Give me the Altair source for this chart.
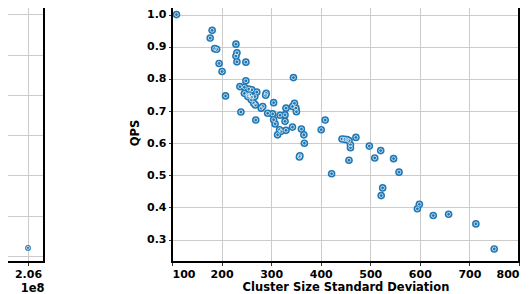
import altair as alt
import pandas as pd

# Right panel: cluster size std vs QPS
std_dev = [109, 181, 177, 186, 190, 195, 201, 208, 229, 231, 229, 231, 249, 249, 237, 246,
           255, 261, 271, 290, 289, 246, 253, 257, 253, 261, 267, 260, 265, 268, 283, 280,
           305, 239, 269, 293, 303, 305, 308, 318, 330, 328, 347, 343, 350, 351, 328, 317,
           343, 330, 320, 313, 361, 366, 367, 358, 357, 345, 409, 401, 443, 448, 453, 457,
           471, 460, 460, 498, 457, 509, 521, 547, 558, 422, 525, 522, 599, 595, 627, 658,
           713, 750]
qps = [1.000, 0.951, 0.927, 0.894, 0.892, 0.848, 0.823, 0.747, 0.908, 0.881, 0.871, 0.853,
       0.852, 0.794, 0.776, 0.774, 0.768, 0.766, 0.759, 0.755, 0.749, 0.755, 0.750, 0.750,
       0.745, 0.743, 0.745, 0.735, 0.724, 0.719, 0.714, 0.709, 0.726, 0.697, 0.672, 0.693,
       0.691, 0.673, 0.660, 0.687, 0.709, 0.688, 0.724, 0.714, 0.709, 0.698, 0.668, 0.642,
       0.650, 0.640, 0.637, 0.626, 0.644, 0.626, 0.600, 0.561, 0.557, 0.804, 0.672, 0.642,
       0.613, 0.612, 0.611, 0.608, 0.618, 0.595, 0.586, 0.591, 0.547, 0.554, 0.577, 0.552,
       0.510, 0.505, 0.461, 0.437, 0.410, 0.396, 0.375, 0.379, 0.349, 0.271]

# Left (partially visible) panel
left_x = [2.06e8]
left_y = [0.42]

x_ticks = [100, 200, 300, 400, 500, 600, 700, 800]
y_ticks = [0.3, 0.4, 0.5, 0.6, 0.7, 0.8, 0.9, 1.0]
left_y_ticks = [0.4, 0.5, 0.6, 0.7, 0.8, 0.9, 1.0]

BLUE = "#1f77b4"
FONT = "DejaVu Sans"
RW, RH = 347, 259
LW, LH = 63, 259

df = pd.DataFrame({"std": std_dev, "qps": qps})
dl = pd.DataFrame({"x": left_x, "y": left_y})

axis_common = dict(
    labelFont=FONT, labelFontSize=11, labelFontWeight="bold", labelColor="black",
    titleFont=FONT, titleFontSize=11.5, titleFontWeight="bold", titleColor="black",
    tickColor="black", tickSize=3.5, tickWidth=0.8, domain=False,
    gridColor="#cccccc", gridWidth=1, labelPadding=2.5,
)

xr = alt.X("std:Q", scale=alt.Scale(domain=[100, 800], nice=False, zero=False),
           axis=alt.Axis(values=x_ticks, format="d", title="Cluster Size Standard Deviation",
                         titlePadding=2, **axis_common))
yr = alt.Y("qps:Q", scale=alt.Scale(domain=[0.2305, 1.036], nice=False, zero=False),
           axis=alt.Axis(values=y_ticks, format=".1f", title="QPS", titlePadding=6,
                         **axis_common))

outer = alt.Chart(df).mark_point(filled=True, size=58, color=BLUE, opacity=1).encode(x=xr, y=yr)
ring = alt.Chart(df).mark_point(filled=False, size=14, color="white", strokeWidth=0.7,
                                opacity=1).encode(x=xr, y=yr)
rframe = alt.Chart(df).mark_rect(fill=None, stroke="black", strokeWidth=2).encode(
    x=alt.value(0), x2=alt.value(RW), y=alt.value(0), y2=alt.value(RH))
right = alt.layer(outer, ring, rframe).properties(width=RW, height=RH)

xl = alt.X("x:Q", scale=alt.Scale(domain=[2.06e8 - 47 * 1e5, 2.06e8 + 16 * 1e5], nice=False, zero=False),
           axis=alt.Axis(values=left_x, labelExpr="format(datum.value / 1e8, '.2f')",
                         title="1e8", titleAnchor="end", titlePadding=3, **axis_common))
yl = alt.Y("y:Q", scale=alt.Scale(domain=[0.385, 1.028], nice=False, zero=False),
           axis=alt.Axis(values=left_y_ticks, labels=False, ticks=False, title=None,
                         domain=False, gridColor="#cccccc", gridWidth=1))
louter = alt.Chart(dl).mark_point(filled=True, size=34, color=BLUE, opacity=1).encode(x=xl, y=yl)
lring = alt.Chart(dl).mark_point(filled=False, size=10, color="white", strokeWidth=0.7,
                                 opacity=1).encode(x=xl, y=yl)
lframe = alt.Chart(dl).mark_rect(fill=None, stroke="black", strokeWidth=2).encode(
    x=alt.value(0), x2=alt.value(LW), y=alt.value(0), y2=alt.value(LH))
left = alt.layer(louter, lring, lframe).properties(width=LW, height=LH)

chart = alt.hconcat(left, right, spacing=84).properties(
    padding={"left": -28, "top": -6, "right": 0, "bottom": 0}
).configure(
    background="white",
    view=alt.ViewConfig(stroke=None),
)

chart.save("out.html", embed_options={"renderer": "svg", "actions": False})
